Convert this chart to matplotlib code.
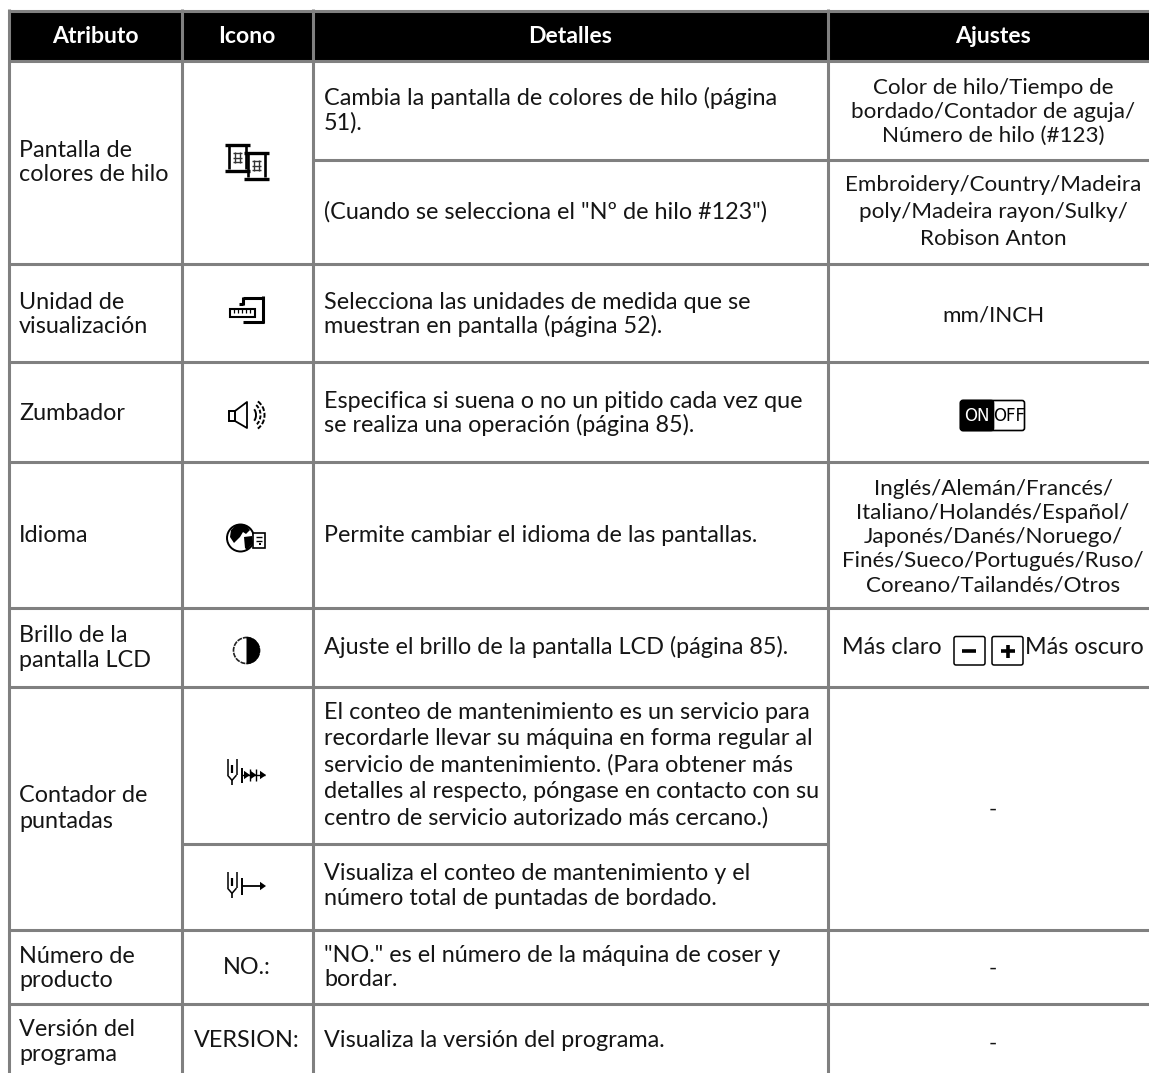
# -*- coding: utf-8 -*-
"""Tabla de ajustes de la maquina: atributo, icono, detalles, ajustes."""

import matplotlib
matplotlib.use("Agg")
import matplotlib.pyplot as plt
from matplotlib.patches import Circle, Rectangle, Wedge, FancyBboxPatch, Arc, Polygon

plt.rcParams["font.family"] = ["Lato", "DejaVu Sans"]

GRID = "#808080"
INK = "#151515"
HEADERS = ["Atributo", "Icono", "Detalles", "Ajustes"]

ATTRIBUTES = [
    ["Pantalla de", "colores de hilo"],
    ["Unidad de", "visualización"],
    ["Zumbador"],
    ["Idioma"],
    ["Brillo de la", "pantalla LCD"],
    ["Contador de", "puntadas"],
    ["Número de", "producto"],
    ["Versión del", "programa"],
]
DETAILS = [
    ["Cambia la pantalla de colores de hilo (página", "51)."],
    ['(Cuando se selecciona el "Nº de hilo #123")'],
    ["Selecciona las unidades de medida que se", "muestran en pantalla (página 52)."],
    ["Especifica si suena o no un pitido cada vez que", "se realiza una operación (página 85)."],
    ["Permite cambiar el idioma de las pantallas."],
    ["Ajuste el brillo de la pantalla LCD (página 85)."],
    ["El conteo de mantenimiento es un servicio para",
     "recordarle llevar su máquina en forma regular al",
     "servicio de mantenimiento. (Para obtener más",
     "detalles al respecto, póngase en contacto con su",
     "centro de servicio autorizado más cercano.)"],
    ["Visualiza el conteo de mantenimiento y el", "número total de puntadas de bordado."],
    ['"NO." es el número de la máquina de coser y', "bordar."],
    ["Visualiza la versión del programa."],
]
SETTINGS = [
    ["Color de hilo/Tiempo de", "bordado/Contador de aguja/", "Número de hilo (#123)"],
    ["Embroidery/Country/Madeira", "poly/Madeira rayon/Sulky/", "Robison Anton"],
    ["mm/INCH"],
    ["Inglés/Alemán/Francés/", "Italiano/Holandés/Español/", "Japonés/Danés/Noruego/",
     "Finés/Sueco/Portugués/Ruso/", "Coreano/Tailandés/Otros"],
    ["-"],
    ["-"],
    ["-"],
]
ICON_TEXT = ["NO.:", "VERSION:"]
SWITCH_LABELS = ["ON", "OFF"]
BRIGHT_LABELS = ["Más claro", "Más oscuro"]

# layout, in reference pixels (first baselines of each text block)
COL_X = [8.5, 181.5, 312.5, 827.5]
ROW_Y = [10.5, 60.5, 264, 362, 461.5, 608, 686.5, 930, 1004, 1073]
SUB_1 = 160
SUB_2 = 844
COL_CENTERS = [95, 247, 570, 993]
ATTR_Y = [157, 309, 420, 542, 642, 802, 963, 1036]
ATTR_LEAD = [24.2, 24.4, 24.4, 24.4, 24.6, 25.5, 24.4, 24.8]
DETAIL_Y = [105, 219, 309, 408, 542, 654, 719, 880, 962, 1047]
DETAIL_LEAD = [24.6, 24.4, 24.4, 24.4, 24.4, 24.4, 26.3, 25.3, 24.4, 24.4]
SETTING_Y = [94, 191, 321, 495, 816, 975, 1050]
SETTING_LEAD = [23.8, 26.8, 24, 24, 24, 24, 24]
ICON_TEXT_Y = [974, 1047]
FS = 16.8
FS_SETTINGS = 16.1

fig = plt.figure(figsize=(11.49, 10.73), dpi=100)
ax = fig.add_axes([0, 0, 1, 1])
ax.set_xlim(0, 1149)
ax.set_ylim(1073, 0)
ax.axis("off")


def block(x, y0, lines, ha="left", lead=24.4, fs=FS):
    for i, line in enumerate(lines):
        ax.text(x, y0 + i * lead, line, ha=ha, va="baseline", fontsize=fs, color=INK)


def seg(x0, y0, x1, y1, lw=1.3, color="black", z=4):
    ax.plot([x0, x1], [y0, y1], color=color, lw=lw, solid_capstyle="butt", zorder=z)


def spool(x0, y0, w, h):
    ax.add_patch(Rectangle((x0, y0), w, h, fc="white", ec="none", zorder=3))
    seg(x0, y0 + 1.5, x0 + w, y0 + 1.5, lw=2.4)
    seg(x0, y0 + h - 1.5, x0 + w, y0 + h - 1.5, lw=2.4)
    seg(x0 + 4, y0 + 3, x0 + 4, y0 + h - 3, lw=1.9)
    seg(x0 + w - 4, y0 + 3, x0 + w - 4, y0 + h - 3, lw=1.9)
    for f in (0.36, 0.5, 0.64):
        seg(x0 + 8, y0 + h * f, x0 + w - 8, y0 + h * f, lw=1.0, color="#333333")
    for f in (0.4, 0.6):
        seg(x0 + w * f, y0 + 9, x0 + w * f, y0 + h - 9, lw=1.0, color="#333333")


def needle(x0, y0, h):
    seg(x0, y0, x0, y0 + h * 0.62, lw=1.1)
    seg(x0 + 9, y0, x0 + 9, y0 + h * 0.62, lw=1.1)
    seg(x0, y0 + h * 0.62, x0 + 4.5, y0 + h * 0.82, lw=1.1)
    seg(x0 + 9, y0 + h * 0.62, x0 + 4.5, y0 + h * 0.82, lw=1.1)
    seg(x0 + 4.5, y0 + h * 0.22, x0 + 4.5, y0 + h * 0.55, lw=1.6)
    seg(x0 + 4.5, y0 + h * 0.8, x0 + 4.5, y0 + h, lw=1.2)


def arrow_head(x, y, size=6):
    ax.add_patch(Polygon([[x, y], [x - size, y - size * 0.7], [x - size, y + size * 0.7]],
                         closed=True, fc="black", ec="none", zorder=4))


# header band and grid
ax.add_patch(Rectangle((COL_X[0], ROW_Y[0]), 1149 - COL_X[0], ROW_Y[1] - ROW_Y[0],
                       fc="black", ec="none", zorder=1))
for x in COL_X:
    seg(x, ROW_Y[0] - 1.5, x, 1073, lw=2.2, color=GRID, z=2)
for y in ROW_Y[:-1]:
    seg(COL_X[0], y, 1149, y, lw=2.2, color=GRID, z=2)
seg(COL_X[2], SUB_1, 1149, SUB_1, lw=2.2, color=GRID, z=2)
seg(COL_X[1], SUB_2, COL_X[3], SUB_2, lw=2.2, color=GRID, z=2)

for cx, head in zip(COL_CENTERS, HEADERS):
    ax.text(cx, 43, head, ha="center", va="baseline", fontsize=16.6,
            fontweight="bold", color="white", zorder=5)

for y0, lines, lead in zip(ATTR_Y, ATTRIBUTES, ATTR_LEAD):
    block(19, y0, lines, lead=lead)
for y0, lines, lead in zip(DETAIL_Y, DETAILS, DETAIL_LEAD):
    block(324, y0, lines, lead=lead)
for y0, lines, lead in zip(SETTING_Y, SETTINGS, SETTING_LEAD):
    block(COL_CENTERS[3], y0, lines, ha="center", lead=lead, fs=FS_SETTINGS)
for y0, label in zip(ICON_TEXT_Y, ICON_TEXT):
    block(COL_CENTERS[1], y0, [label], ha="center")

# on / off switch
ax.add_patch(FancyBboxPatch((960.5, 400.5), 64, 30, boxstyle="round,pad=0,rounding_size=2.5",
                            fc="white", ec="black", lw=1.2, zorder=3))
ax.add_patch(FancyBboxPatch((960.5, 400.5), 33, 30, boxstyle="round,pad=0,rounding_size=2.5",
                            fc="black", ec="black", lw=1.2, zorder=3))
ax.add_patch(Rectangle((985, 400), 9, 31, fc="black", ec="none", zorder=3))
ax.text(977, 421, SWITCH_LABELS[0], ha="center", va="baseline", fontsize=12, color="white",
        family="Liberation Sans Narrow", zorder=5)
ax.text(1009, 421, SWITCH_LABELS[1], ha="center", va="baseline", fontsize=12, color="black",
        family="Liberation Sans Narrow", zorder=5)

# brightness row
ax.text(842, 654, BRIGHT_LABELS[0], ha="left", va="baseline", fontsize=FS, color=INK)
ax.text(1025, 654, BRIGHT_LABELS[1], ha="left", va="baseline", fontsize=FS, color=INK)
for bx in (954, 992):
    ax.add_patch(FancyBboxPatch((bx, 636.5), 31, 28.5, boxstyle="round,pad=0,rounding_size=2",
                                fc="white", ec="black", lw=1.1, zorder=3))
seg(962, 651, 976, 651, lw=2.6)
seg(1001, 651, 1015, 651, lw=2.6)
seg(1008, 644.5, 1008, 657.5, lw=2.6)

# icons
spool(225, 143, 25, 29)
spool(244, 151, 25, 29)

ax.add_patch(Rectangle((229.5, 309), 25.5, 7.5, fc="white", ec="black", lw=1.5, zorder=5))
for tx in (234, 238, 242, 246, 250):
    seg(tx, 309, tx, 312.5, lw=0.9, z=6)
seg(243, 297.5, 263, 297.5, lw=2.2)
seg(263, 296, 263, 323, lw=2.2)
seg(243, 322, 264, 322, lw=2.2)
seg(243, 297, 243, 305, lw=2.2)
seg(239, 304, 243, 304, lw=2.2)

ax.add_patch(Rectangle((229, 411), 6, 10, fc="white", ec="black", lw=1.4, zorder=4))
ax.plot([235, 247, 247, 235], [411, 402, 428, 421], color="black", lw=1.3, zorder=4)
for r, st in ((4.5, "-"), (9, (0, (2, 1))), (13, (0, (2.5, 1)))):
    ax.add_patch(Arc((251.5, 415), 2 * r, 2 * r + 5, theta1=-65, theta2=65, lw=1.4, ec="black",
                     ls=st, zorder=4))

ax.add_patch(Circle((240.5, 538), 13.5, fc="white", ec="black", lw=1.4, zorder=3))
ax.add_patch(Polygon([[231, 530], [236, 525], [246, 525], [250, 530], [246, 534], [243, 532],
                      [240, 537], [234, 543], [230, 537]], closed=True, fc="black", ec="none", zorder=4))
ax.add_patch(Polygon([[244, 537], [252, 536], [253, 543], [247, 550], [245, 548]],
                     closed=True, fc="black", ec="none", zorder=4))
ax.add_patch(Rectangle((253, 533), 12, 15, fc="white", ec="black", lw=1.2, zorder=5))
seg(256, 537, 262, 537, lw=1, z=6)
seg(256, 540.5, 262, 540.5, lw=1, z=6)
seg(258.5, 544, 260.5, 544, lw=1.4, z=6)

ax.add_patch(Circle((246.5, 650.5), 13, fc="white", ec="#222222", lw=1.2, ls=(0, (3, 0.6)), zorder=3))
ax.add_patch(Wedge((246.5, 650.5), 13.6, -90, 90, fc="black", ec="none", zorder=4))

needle(227.5, 759, 26)
seg(242, 768, 242, 783, lw=1.4)
seg(242, 775, 265, 775, lw=1.0)
seg(249.5, 769, 249.5, 781, lw=1.0)
seg(256, 769, 256, 781, lw=1.0)
arrow_head(250, 775, 6)
arrow_head(256.5, 775, 6)
arrow_head(266, 775, 6)

needle(227.5, 872, 26)
seg(242, 878, 242, 895, lw=1.4)
seg(242, 886, 262, 886, lw=1.3)
arrow_head(266, 886, 6)

fig.savefig("out.png", dpi=100)
plt.close(fig)
